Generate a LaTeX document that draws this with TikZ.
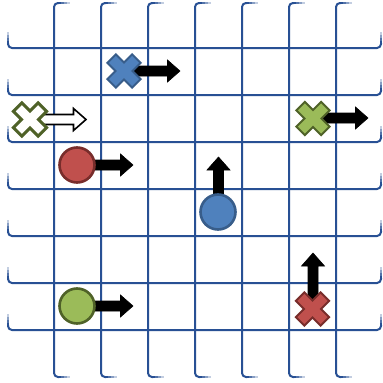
\documentclass[tikz,border=0pt]{standalone}
\begin{document}
\begin{tikzpicture}[x=1pt,y=-1pt,
  gridline/.style={draw=gridc,line width=2pt},
  solidarrow/.style={fill=black,draw=black,line width=0.6pt,line join=miter},
  hollowarrow/.style={fill=white,draw=black,line width=1.6pt,line join=miter},
  xm/.pic={\path[pic actions,rotate=45] (-6,-17.5) -- (6,-17.5) -- (6,-6) -- (17.5,-6) -- (17.5,6) -- (6,6) -- (6,17.5) -- (-6,17.5) -- (-6,6) -- (-17.5,6) -- (-17.5,-6) -- (-6,-6) -- cycle;},
  bluemark/.style={fill=blueF,draw=blueD,line width=2pt},
  redmark/.style={fill=redF,draw=redD,line width=2pt},
  greenmark/.style={fill=greenF,draw=greenD,line width=2pt},
  whitemark/.style={fill=white,draw=greenD,line width=3pt},
  dot/.style={circle,minimum size=35pt,inner sep=0pt,line width=2.6pt}
]
\definecolor{gridc}{RGB}{40,80,148}
\definecolor{blueF}{RGB}{79,129,189}
\definecolor{blueD}{RGB}{56,93,138}
\definecolor{redF}{RGB}{192,80,77}
\definecolor{redD}{RGB}{120,45,43}
\definecolor{greenF}{RGB}{155,187,89}
\definecolor{greenD}{RGB}{79,98,40}
\useasboundingbox (0,0) rectangle (383,383);
\fill[white] (0,0) rectangle (383,383);
% horizontal grid lines
\foreach \y in {48,95,142,189,236,283,330}{
  \draw[gridline,rounded corners=4pt] (8,\y-5) -- (8,\y) -- (381,\y) -- (381,\y-5);
  \foreach \a/\b/\c in {4/7/100,7/10/80,10/13/55,13/16/28}{
    \draw[draw=gridc!\c!white,line width=2pt] (8,\y-\a) -- (8,\y-\b);
    \draw[draw=gridc!\c!white,line width=2pt] (381,\y-\a) -- (381,\y-\b);
  }
}
% vertical grid lines
\foreach \x in {54,101,148,195,242,289,336}{
  \draw[gridline,rounded corners=4pt] (\x+5,3) -- (\x,3) -- (\x,377) -- (\x+5,377);
  \foreach \a/\b/\c in {4/7/100,7/10/80,10/13/55,13/16/28}{
    \draw[draw=gridc!\c!white,line width=2pt] (\x+\a,3) -- (\x+\b,3);
    \draw[draw=gridc!\c!white,line width=2pt] (\x+\a,377) -- (\x+\b,377);
  }
}
% arrows
\newcommand\rarrow[4]{\path[#1] (#2,#4-5) -- ({#3-12.5},#4-5) -- ({#3-12.5},#4-11) -- (#3,#4) -- ({#3-12.5},#4+11) -- ({#3-12.5},#4+5) -- (#2,#4+5) -- cycle;}
\newcommand\uarrow[4]{\path[#1] (#4-5,#2) -- (#4-5,{#3+13}) -- (#4-11.5,{#3+13}) -- (#4,#3) -- (#4+11.5,{#3+13}) -- (#4+5,{#3+13}) -- (#4+5,#2) -- cycle;}
\rarrow{solidarrow}{124}{180}{71}
\rarrow{hollowarrow}{36}{86}{119.5}
\rarrow{solidarrow}{313}{368}{118}
\rarrow{solidarrow}{77}{133}{165}
\rarrow{solidarrow}{77}{133}{306}
\uarrow{solidarrow}{212}{157}{218.5}
\uarrow{solidarrow}{306}{253}{313}
% markers
\pic[bluemark] (bx) at (124,71) {xm};
\pic[whitemark] (wx) at (30,119.5) {xm};
\pic[greenmark] (gx) at (313,118.5) {xm};
\pic[redmark] (rx) at (312.5,309) {xm};
\node[dot,fill=redF,draw=redD] (rc) at (77,165) {};
\node[dot,fill=blueF,draw=blueD] (bc) at (218,212) {};
\node[dot,fill=greenF,draw=greenD] (gc) at (77,306) {};
\end{tikzpicture}
\end{document}
